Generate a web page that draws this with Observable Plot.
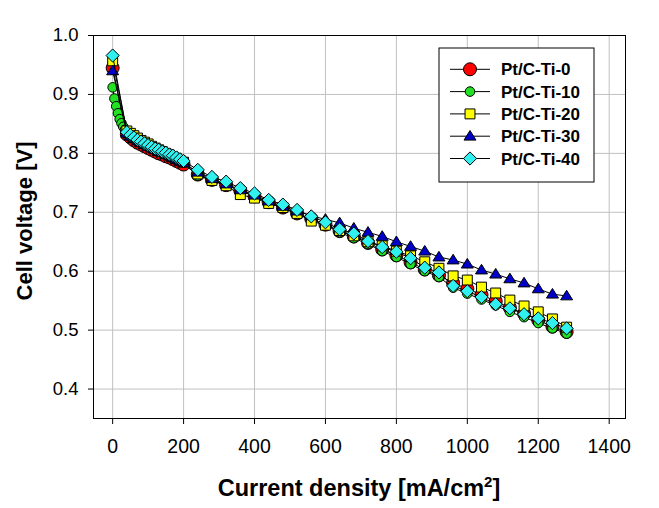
<!DOCTYPE html>
<html><head><meta charset="utf-8">
<script src="https://cdn.jsdelivr.net/npm/d3@7"></script>
<script src="https://cdn.jsdelivr.net/npm/@observablehq/plot@0.6"></script>
<style>body{margin:0;background:#fff}svg{display:block}</style>
</head><body><div id="chart"></div>
<script>
// ---- data ----
const seriesNames = ["Pt/C-Ti-0", "Pt/C-Ti-10", "Pt/C-Ti-20", "Pt/C-Ti-30", "Pt/C-Ti-40"];

const current = [0, 40, 50, 60, 70, 80, 90, 100, 110, 120, 130, 140, 150, 160, 170, 180, 190, 200,
  240, 280, 320, 360, 400, 440, 480, 520, 560, 600, 640, 680, 720, 760, 800, 840, 880, 920,
  960, 1000, 1040, 1080, 1120, 1160, 1200, 1240, 1280];

const currentTi10 = [0, 5, 10, 15, 20, 25, 30, 35, 40, 50, 60, 70, 80, 90, 100, 110, 120, 130, 140, 150, 160, 170, 180, 190, 200,
  240, 280, 320, 360, 400, 440, 480, 520, 560, 600, 640, 680, 720, 760, 800, 840, 880, 920,
  960, 1000, 1040, 1080, 1120, 1160, 1200, 1240, 1280];

const voltTi0 = [0.945, 0.832, 0.827, 0.822, 0.818, 0.815, 0.812, 0.809, 0.806, 0.803, 0.800, 0.798, 0.795, 0.793, 0.790, 0.787, 0.784, 0.781,
  0.764, 0.755, 0.746, 0.737, 0.727, 0.717, 0.708, 0.698, 0.689, 0.679, 0.668, 0.659, 0.648, 0.637, 0.627, 0.615, 0.603, 0.593,
  0.580, 0.570, 0.560, 0.549, 0.538, 0.528, 0.517, 0.506, 0.497];

const voltTi10 = [0.912, 0.893, 0.880, 0.868, 0.858, 0.851, 0.845, 0.840,
  0.835, 0.830, 0.826, 0.822, 0.819, 0.816, 0.813, 0.810, 0.807, 0.804, 0.801, 0.799, 0.796, 0.793, 0.790, 0.787, 0.784,
  0.762, 0.754, 0.746, 0.737, 0.727, 0.716, 0.707, 0.697, 0.688, 0.678, 0.666, 0.656, 0.646, 0.634, 0.624, 0.612, 0.600, 0.590,
  0.572, 0.562, 0.552, 0.542, 0.531, 0.522, 0.512, 0.503, 0.494];

const voltTi20 = [0.957, 0.838, 0.834, 0.830, 0.826, 0.822, 0.819, 0.816, 0.812, 0.809, 0.806, 0.803, 0.800, 0.797, 0.794, 0.791, 0.788, 0.785,
  0.765, 0.754, 0.745, 0.730, 0.724, 0.715, 0.708, 0.698, 0.685, 0.678, 0.669, 0.660, 0.650, 0.643, 0.634, 0.626, 0.616, 0.605,
  0.592, 0.585, 0.573, 0.563, 0.551, 0.541, 0.531, 0.519, 0.505];

const voltTi30 = [0.940, 0.834, 0.829, 0.825, 0.821, 0.818, 0.815, 0.812, 0.809, 0.806, 0.803, 0.801, 0.798, 0.796, 0.793, 0.790, 0.787, 0.784,
  0.768, 0.757, 0.748, 0.738, 0.729, 0.719, 0.710, 0.702, 0.694, 0.688, 0.682, 0.673, 0.666, 0.659, 0.650, 0.642, 0.634, 0.624,
  0.619, 0.612, 0.602, 0.595, 0.587, 0.580, 0.570, 0.561, 0.558];

const voltTi40 = [0.966, 0.836, 0.831, 0.827, 0.823, 0.820, 0.817, 0.814, 0.811, 0.808, 0.806, 0.803, 0.801, 0.798, 0.796, 0.793, 0.790, 0.787,
  0.772, 0.760, 0.752, 0.741, 0.732, 0.721, 0.713, 0.704, 0.693, 0.683, 0.671, 0.664, 0.651, 0.641, 0.633, 0.622, 0.606, 0.598,
  0.575, 0.566, 0.556, 0.544, 0.537, 0.527, 0.520, 0.512, 0.503];

const xTicks = [0, 200, 400, 600, 800, 1000, 1200, 1400];
const yTicks = [0.4, 0.5, 0.6, 0.7, 0.8, 0.9, 1.0];

// ---- symbols ----
const circleSym = {draw(ctx, size) { const r = Math.sqrt(size / Math.PI); ctx.moveTo(r, 0); ctx.arc(0, 0, r, 0, 2 * Math.PI); ctx.closePath(); }};
const squareSym = {draw(ctx, size) { const r = Math.sqrt(size / Math.PI), h = r * 0.8; ctx.moveTo(-h, -h); ctx.lineTo(h, -h); ctx.lineTo(h, h); ctx.lineTo(-h, h); ctx.closePath(); }};
const triSym = {draw(ctx, size) { const r = Math.sqrt(size / Math.PI); ctx.moveTo(0, -r * 0.95); ctx.lineTo(r, r * 0.65); ctx.lineTo(-r, r * 0.65); ctx.closePath(); }};
const diaSym = {draw(ctx, size) { const r = Math.sqrt(size / Math.PI); ctx.moveTo(0, -r); ctx.lineTo(r, 0); ctx.lineTo(0, r); ctx.lineTo(-r, 0); ctx.closePath(); }};

const styles = [
  {fill: "#ff0000", symbol: circleSym, r: 6.5},
  {fill: "#22e022", symbol: circleSym, r: 4.8},
  {fill: "#ffff00", symbol: squareSym, r: 6.2},
  {fill: "#0000c8", symbol: triSym, r: 6.0},
  {fill: "#30f0f0", symbol: diaSym, r: 6.6}
];
const xs = [current, currentTi10, current, current, current];
const ys = [voltTi0, voltTi10, voltTi20, voltTi30, voltTi40];
const series = seriesNames.map((name, i) => ({
  name, style: styles[i],
  data: xs[i].map((x, j) => ({x, y: ys[i][j]}))
}));

const marks = [
  Plot.gridX(xTicks, {stroke: "#c0c0c0", strokeOpacity: 1}),
  Plot.gridY(yTicks.slice(0, -1), {stroke: "#c0c0c0", strokeOpacity: 1}),
  Plot.frame({stroke: "black", strokeWidth: 1})
];
for (const s of series) {
  marks.push(Plot.line(s.data, {x: "x", y: "y", stroke: "black", strokeWidth: 1}));
  marks.push(Plot.dot(s.data, {x: "x", y: "y", r: s.style.r, symbol: s.style.symbol, fill: s.style.fill, stroke: "black", strokeWidth: 1}));
}
marks.push(Plot.axisX({ticks: xTicks, tickSize: 6, tickPadding: 15, fontSize: 19.5, tickFormat: d => String(d), label: null}));
marks.push(Plot.axisY({ticks: yTicks, tickSize: 5, tickPadding: 10, fontSize: 18.5, tickFormat: d3.format(".1f"), label: null}));

const chart = Plot.plot({
  width: 659, height: 508,
  marginLeft: 93, marginRight: 34, marginTop: 35, marginBottom: 90,
  x: {domain: [-54, 1446]},
  y: {domain: [0.35, 1.0]},
  style: {fontFamily: "'Liberation Sans', Arial, sans-serif", background: "white", color: "black"},
  marks
});
document.getElementById("chart").appendChild(chart);

// ---- titles and legend ----
const svg = d3.select(chart);
svg.append("text").attr("transform", "translate(32,221) rotate(-90)")
  .attr("text-anchor", "middle").attr("font-size", 22).attr("font-weight", "bold")
  .attr("fill", "black").text("Cell voltage [V]");
const xt = svg.append("text").attr("x", 359).attr("y", 496)
  .attr("text-anchor", "middle").attr("font-size", 23.5).attr("font-weight", "bold").attr("fill", "black");
xt.append("tspan").text("Current density [mA/cm");
xt.append("tspan").attr("font-size", 15).attr("dy", -9).text("2");
xt.append("tspan").attr("dy", 9).text("]");

const lg = svg.append("g");
lg.append("rect").attr("x", 439).attr("y", 48).attr("width", 155).attr("height", 134)
  .attr("fill", "white").attr("stroke", "black").attr("stroke-width", 1);
series.forEach((s, i) => {
  const cy = 69.3 + 22.3 * i;
  lg.append("line").attr("x1", 450).attr("x2", 490).attr("y1", cy).attr("y2", cy).attr("stroke", "black");
  lg.append("path").attr("transform", `translate(470,${cy})`)
    .attr("d", d3.symbol(s.style.symbol, Math.PI * s.style.r * s.style.r)())
    .attr("fill", s.style.fill).attr("stroke", "black");
  lg.append("text").attr("x", 501).attr("y", cy).attr("dy", "0.36em").attr("text-anchor", "start")
    .attr("font-size", 17).attr("font-weight", "bold").attr("fill", "black").text(s.name);
});
</script></body></html>
